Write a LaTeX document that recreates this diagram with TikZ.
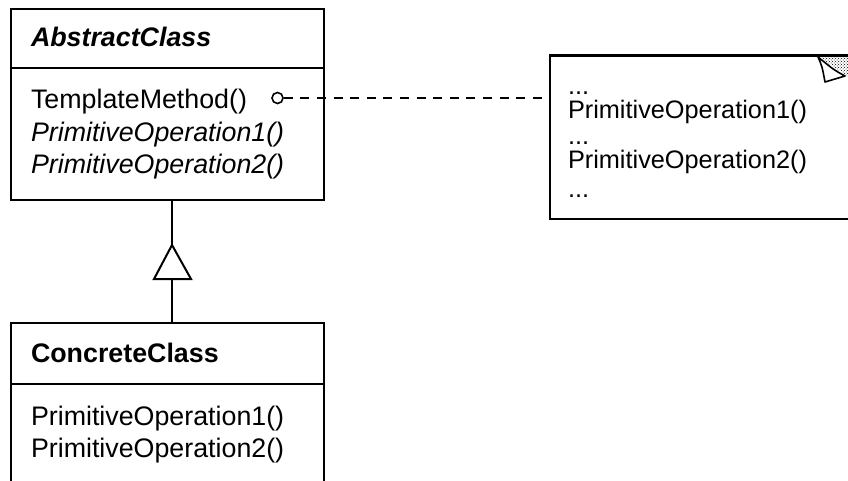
\documentclass[tikz,border=0pt]{standalone}
\usepackage{fontspec}
\setmainfont{Liberation Sans}
\usetikzlibrary{patterns}
\begin{document}
\begin{tikzpicture}[x=1pt,y=-1pt,line width=2pt,
  classbox/.style={draw,rectangle,anchor=north west,inner sep=0pt},
  member/.style={anchor=base west,inner sep=0pt,font=\fontsize{26.8}{32}\selectfont},
  notetext/.style={anchor=base west,inner sep=0pt,font=\fontsize{25.3}{28}\selectfont},
  gen/.style={draw,fill=white,line width=2pt}]
\useasboundingbox (0,0) rectangle (848,480);
\clip (0,0) rectangle (848,480);

% AbstractClass
\node[classbox,minimum width=313pt,minimum height=191pt] (abs) at (10,8) {};
\draw (abs.west |- 0,68) -- (abs.east |- 0,68);
\node[member] (absname) at (30,46) {\textbf{\textit{AbstractClass}}};
\node[member] (tm) at (30,108) {TemplateMethod()};
\node[member] (ap1) at (30,141) {\textit{PrimitiveOperation1()}};
\node[member] (ap2) at (30,173) {\textit{PrimitiveOperation2()}};

% ConcreteClass (continues below the lower edge)
\node[classbox,minimum width=313pt,minimum height=200pt] (conc) at (10,322) {};
\draw (conc.west |- 0,384) -- (conc.east |- 0,384);
\node[member] (concname) at (30,362) {\textbf{ConcreteClass}};
\node[member] (cp1) at (30,425) {PrimitiveOperation1()};
\node[member] (cp2) at (30,457) {PrimitiveOperation2()};

% Generalization
\coordinate (tip) at (172,245);
\draw (abs.south -| tip) -- (tip);
\draw (conc.north -| tip) -- (172,279);
\draw[gen] (tip) -- (154,279) -- (191,279) -- cycle;

% Note with folded corner
\node[classbox,minimum width=320pt,minimum height=163pt] (note) at (549,55) {};
\fill[pattern=crosshatch dots,pattern color=black] (817,56) -- (849,56) -- (849,77) -- cycle;
\draw[fill=white,line width=1.6pt,line join=round] (818,57) .. controls (822,66) .. (825,82) -- (845,76) .. controls (834,70) .. cycle;
\draw (note.north west) -- (849,55);
\node[notetext] (n1) at (567,94) {...};
\node[notetext] (n2) at (567,118) {PrimitiveOperation1()};
\node[notetext] (n3) at (567,144) {...};
\node[notetext] (n4) at (567,168) {PrimitiveOperation2()};
\node[notetext] (n5) at (567,197) {...};

% Note anchor
\node[circle,draw,line width=1.6pt,minimum size=11pt,inner sep=0pt] (dot) at (277.5,98) {};
\draw[dash pattern=on 9pt off 7.6pt] (dot.east) -- (note.west |- dot.east);
\end{tikzpicture}
\end{document}
